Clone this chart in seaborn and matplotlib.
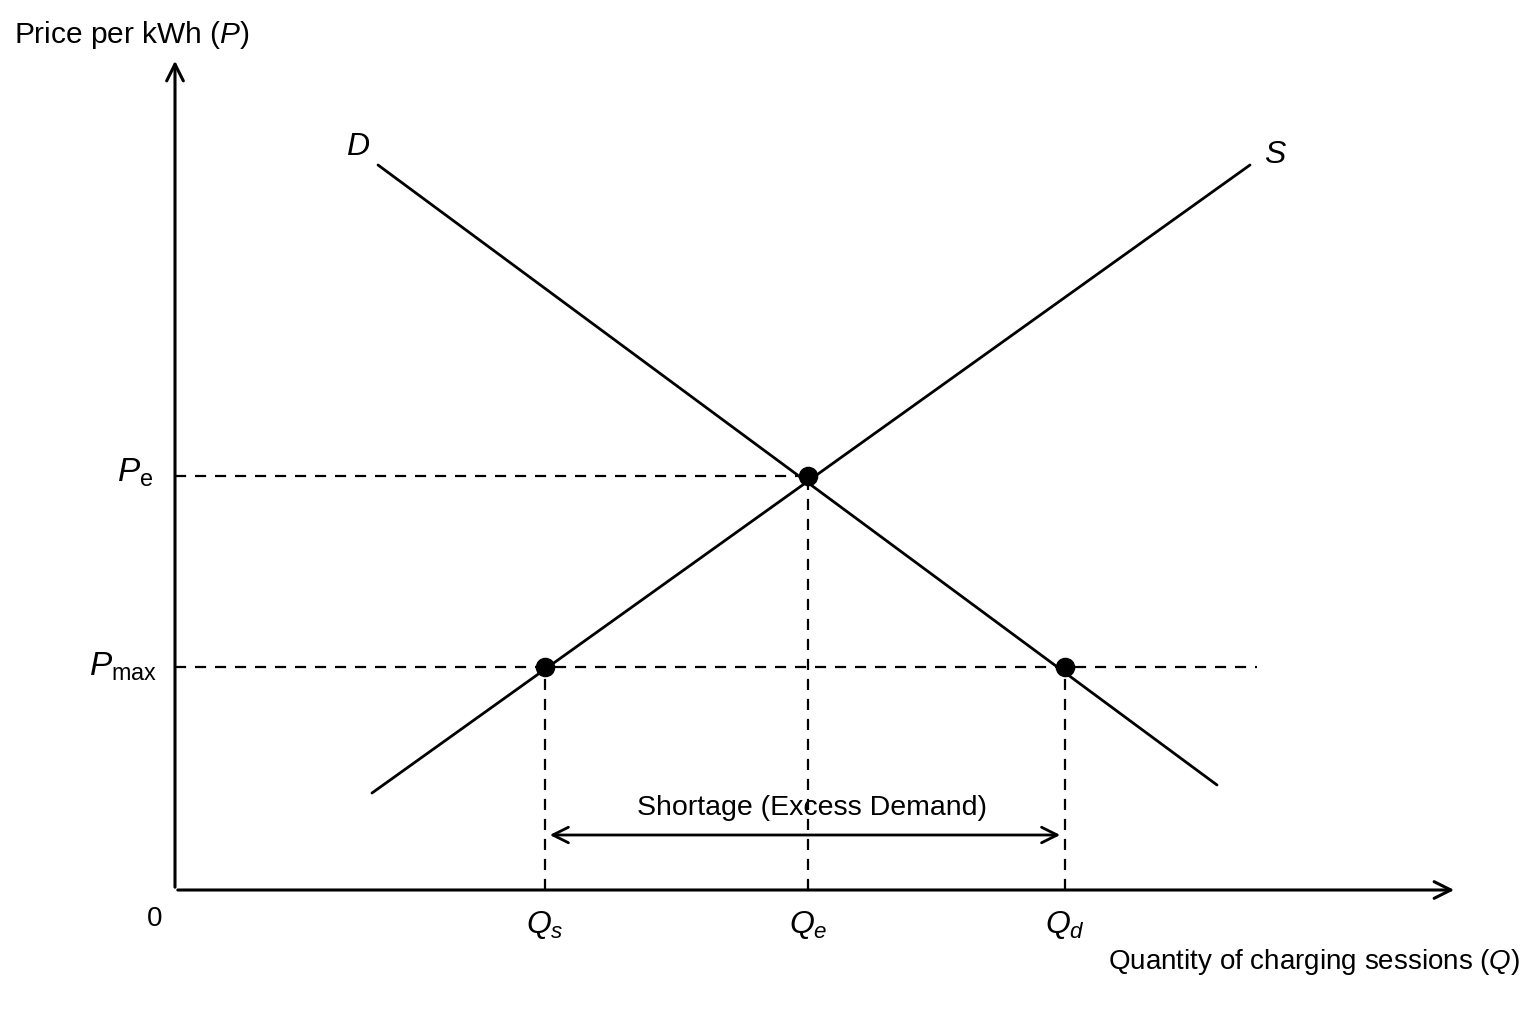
import numpy as np
import pandas as pd
import seaborn as sns
import matplotlib.pyplot as plt

# Data (abstract units; origin at the axes corner)
demand_q = [2.03, 10.42]
demand_p = [7.25, 1.05]
supply_q = [1.97, 10.75]
supply_p = [0.97, 7.25]
q_s, q_e, q_d = 3.70, 6.33, 8.90
p_e, p_max = 4.14, 2.23
q_labels = ['$Q_s$', '$Q_e$', '$Q_d$']

sns.set_theme(style='white')
plt.rcParams['font.family'] = ['Liberation Sans', 'DejaVu Sans']
plt.rcParams['text.color'] = 'black'
plt.rcParams['mathtext.fontset'] = 'custom'
plt.rcParams['mathtext.rm'] = 'Liberation Sans'
plt.rcParams['mathtext.it'] = 'Liberation Sans:italic'

fig = plt.figure(figsize=(15.36, 10.24), dpi=100)
ax = fig.add_axes([0, 0, 1, 1])
ax.set_xlim(-1.75, 13.61)
ax.set_ylim(-1.34, 8.90)
ax.axis('off')

# axes arrows
ax.annotate('', xy=(12.82, 0), xytext=(0, 0),
            arrowprops=dict(arrowstyle='->', lw=2.2, color='black', mutation_scale=30))
ax.annotate('', xy=(0, 8.32), xytext=(0, 0),
            arrowprops=dict(arrowstyle='->', lw=2.2, color='black', mutation_scale=30))

curves = pd.DataFrame({
    'Q': demand_q + supply_q,
    'P': demand_p + supply_p,
    'curve': ['D', 'D', 'S', 'S'],
})
sns.lineplot(data=curves, x='Q', y='P', units='curve', estimator=None,
             color='black', lw=2, ax=ax, legend=False)

# dashed guides
dash = dict(color='black', lw=1.6, ls=(0, (5, 4)))
ax.plot([0, q_e], [p_e, p_e], **dash)
ax.plot([0, 10.82], [p_max, p_max], **dash)
for q, top in [(q_s, p_max), (q_e, p_e), (q_d, p_max)]:
    ax.plot([q, q], [0, top], **dash)

pts = pd.DataFrame({'Q': [q_e, q_s, q_d], 'P': [p_e, p_max, p_max]})
sns.scatterplot(data=pts, x='Q', y='P', color='black', edgecolor='black', s=170, ax=ax, zorder=5)

# shortage arrow
ax.annotate('', xy=(q_d - 0.02, 0.55), xytext=(q_s + 0.02, 0.55),
            arrowprops=dict(arrowstyle='<->', lw=2, color='black', mutation_scale=28))
ax.text((q_s + q_d) / 2 + 0.07, 0.82, 'Shortage (Excess Demand)', ha='center', va='center', fontsize=20.5)

# labels
ax.text(-1.61, 8.55, 'Price per kWh ($P$)', ha='left', va='center', fontsize=21.5)
ax.text(13.45, -0.72, 'Quantity of charging sessions ($Q$)', ha='right', va='center', fontsize=20)
ax.text(-0.20, -0.29, '0', ha='center', va='center', fontsize=20)
for q, lab in zip([q_s, q_e, q_d], q_labels):
    ax.text(q, -0.35, lab, ha='center', va='center', fontsize=23)
ax.text(-0.22, p_e + 0.03, r'$P_\mathrm{e}$', ha='right', va='center', fontsize=24)
ax.text(-0.18, p_max, r'$P_\mathrm{max}$', ha='right', va='center', fontsize=24)
ax.text(1.83, 7.43, '$D$', ha='center', va='center', fontsize=23)
ax.text(11.00, 7.35, '$S$', ha='center', va='center', fontsize=23)

fig.savefig('out.png', dpi=100, facecolor='white')
